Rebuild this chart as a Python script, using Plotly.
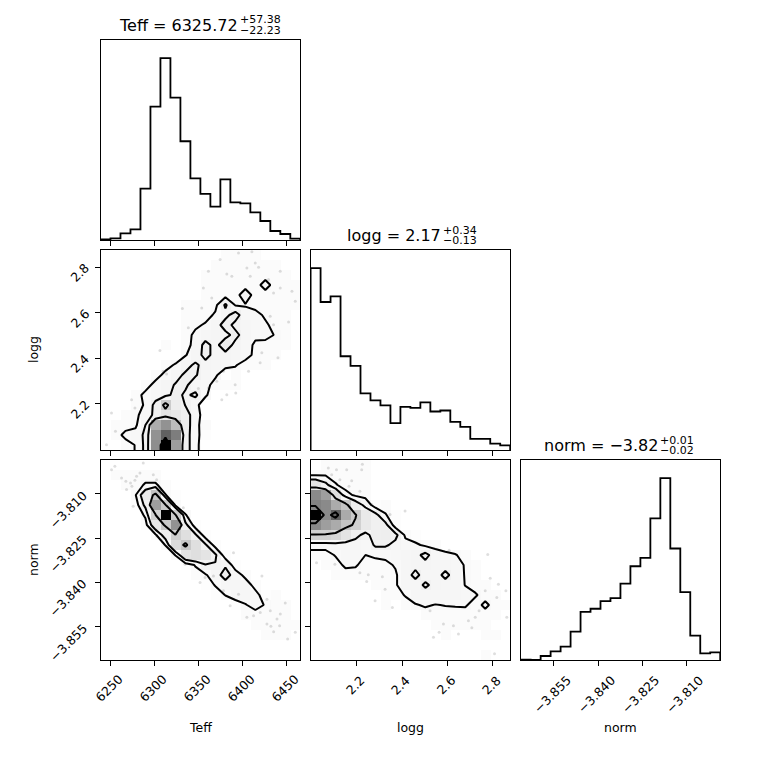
import numpy as np
import plotly.graph_objects as go

# Rangos de cada parametro (los mismos para histogramas 1D y 2D)
teff_range = [6238.6, 6465.6]
logg_range = [1.997, 2.876]
norm_range = [-3.8663, -3.7985]

# Histogramas 1D (20 bins)
teff_counts = [2, 5, 20, 32, 154, 400, 545, 427, 296, 185, 138, 100, 182, 113, 110, 83, 57, 27, 18, 4]
logg_counts = [543, 442, 459, 280, 251, 169, 148, 133, 80, 129, 126, 142, 115, 118, 84, 69, 33, 33, 19, 14]
norm_counts = [1, 0, 12, 26, 40, 85, 144, 153, 176, 185, 228, 280, 305, 423, 543, 333, 203, 73, 20, 23]

# Ticks
teff_ticks = [6250, 6300, 6350, 6400, 6450]
logg_ticks = [2.2, 2.4, 2.6, 2.8]
norm_ticks = [-3.855, -3.840, -3.825, -3.810]
teff_ticktext = ["6250", "6300", "6350", "6400", "6450"]
logg_ticktext = ["2.2", "2.4", "2.6", "2.8"]
norm_ticktext = ["\u22123.855", "\u22123.840", "\u22123.825", "\u22123.810"]

# Titulos
title_main = ["Teff = 6325.72", "logg = 2.17", "norm = \u22123.82"]
title_sup = ["+57.38", "+0.34", "+0.01"]
title_sub = ["\u221222.23", "\u22120.13", "\u22120.02"]
labels = ["Teff", "logg", "norm"]

# Histogramas 2D (20x20), filas de arriba hacia abajo
teff_logg_grid = [
    [0, 0, 0, 0, 0, 0, 0, 0, 0, 0, 0, 0, 1, 1, 1, 1, 0, 0, 0, 0],
    [0, 0, 0, 0, 0, 0, 0, 0, 0, 0, 0, 1, 1, 1, 1, 1, 1, 1, 0, 0],
    [0, 0, 0, 0, 0, 0, 0, 0, 0, 0, 1, 1, 1, 1, 1, 1, 1, 1, 1, 0],
    [0, 0, 0, 0, 0, 0, 0, 0, 0, 0, 1, 1, 1, 1, 1, 1, 3, 1, 1, 1],
    [0, 0, 0, 0, 0, 0, 0, 0, 0, 0, 1, 1, 1, 1, 3.5, 1, 1, 1, 1, 1],
    [0, 0, 0, 0, 0, 0, 0, 0, 1, 1, 1, 1.3, 5.5, 1.8, 1.8, 1, 1, 1, 1, 1],
    [0, 0, 0, 0, 0, 0, 0, 0, 1, 1, 1, 2.4, 4, 6.5, 3, 3, 1.5, 1, 1, 0],
    [0, 0, 0, 0, 0, 0, 0, 0, 1, 1.5, 2.3, 3.5, 6.5, 4, 3.5, 3, 2.5, 1, 1, 0],
    [0, 0, 0, 0, 0, 0, 0, 0, 1, 2.6, 3.5, 4, 4, 6, 3.5, 2.5, 3, 1.8, 1, 0],
    [0, 0, 0, 0, 0, 0, 1, 0, 1, 2.9, 6, 4, 7, 4, 3, 1.6, 1, 1, 1, 0],
    [0, 0, 0, 0, 0, 0, 0, 0, 1.8, 3.5, 6, 4, 4, 3.5, 3, 1.4, 1, 1, 0, 0],
    [0, 0, 0, 0, 0, 0, 1, 2.3, 4, 5.5, 4, 3.5, 3, 2.2, 1, 1, 1, 0, 0, 0],
    [0, 0, 0, 0, 0, 1, 2.7, 4, 5.5, 5.3, 3.5, 2.5, 0, 1, 0, 0, 0, 0, 0, 0],
    [0, 0, 0, 0, 1, 2.8, 4, 5.2, 5.5, 3.5, 3, 0.9, 1, 1, 0, 0, 0, 0, 0, 0],
    [0, 0, 0, 1, 2.7, 3.5, 4, 6, 4.5, 5.6, 2.5, 0, 0, 0, 0, 0, 0, 0, 0, 0],
    [0, 0, 0, 1, 2.3, 6, 14, 7, 4.9, 3, 0, 0, 0, 0, 0, 0, 0, 0, 0, 0],
    [0, 0, 1, 1.5, 3, 6, 9, 8, 6, 3.9, 0, 0, 0, 0, 0, 0, 0, 0, 0, 0],
    [0, 1, 1, 1.5, 5, 22, 28, 18, 7.4, 2.3, 1.5, 0, 0, 0, 0, 0, 0, 0, 0, 0],
    [0, 1, 2.7, 3, 5.8, 28, 40, 33, 6.5, 3, 0.5, 0, 0, 0, 0, 0, 0, 0, 0, 0],
    [0, 0, 1, 2.1, 5.9, 29, 60, 25, 6.5, 3, 0, 0, 0, 0, 0, 0, 0, 0, 0, 0],
]
teff_norm_grid = [
    [0, 0, 0, 0, 0, 0, 0, 0, 0, 0, 0, 0, 0, 0, 0, 0, 0, 0, 0, 0],
    [0, 1, 1, 1, 1, 1, 0, 0, 0, 0, 0, 0, 0, 0, 0, 0, 0, 0, 0, 0],
    [0, 0, 1, 1, 2.3, 2.3, 1, 0, 0, 0, 0, 0, 0, 0, 0, 0, 0, 0, 0, 0],
    [0, 0, 0, 1.8, 8, 16, 2.1, 0.5, 0, 0, 0, 0, 0, 0, 0, 0, 0, 0, 0, 0],
    [0, 0, 0, 0.5, 6, 25, 14.5, 1.5, 0, 0, 0, 0, 0, 0, 0, 0, 0, 0, 0, 0],
    [0, 0, 0, 0, 2.5, 13, 60, 14.5, 2.2, 0, 0, 0, 0, 0, 0, 0, 0, 0, 0, 0],
    [0, 0, 0, 0, 1, 8, 15, 28, 6, 0.5, 0, 0, 0, 0, 0, 0, 0, 0, 0, 0],
    [0, 0, 0, 0, 0, 1.5, 7, 13.5, 10, 5.5, 0.5, 0, 0, 0, 0, 0, 0, 0, 0, 0],
    [0, 0, 0, 0, 0, 0, 2.1, 11, 15, 10, 5.5, 0.8, 0, 0, 0, 0, 0, 0, 0, 0],
    [0, 0, 0, 0, 0, 0, 0, 2.1, 9, 10, 9, 5.5, 0.5, 0, 0, 0, 0, 0, 0, 0],
    [0, 0, 0, 0, 0, 0, 0, 0, 0.5, 2.2, 4.8, 4.8, 4.5, 0.5, 0, 0, 0, 0, 0, 0],
    [0, 0, 0, 0, 0, 0, 0, 0, 0, 1, 1.7, 3.5, 6.5, 3.5, 1.2, 0, 0, 0, 0, 0],
    [0, 0, 0, 0, 0, 0, 0, 0, 0, 0, 0.5, 2.2, 3.5, 3.5, 3.5, 1, 0, 0, 0, 0],
    [0, 0, 0, 0, 0, 0, 0, 0, 0, 0, 0, 0.5, 2.1, 3.5, 3.5, 3, 0.5, 1, 0, 0],
    [0, 0, 0, 0, 0, 0, 0, 0, 0, 0, 0, 0, 0, 0.5, 1.8, 3, 1.8, 1, 1, 0],
    [0, 0, 0, 0, 0, 0, 0, 0, 0, 0, 0, 0, 0, 0, 1, 1, 1, 1, 1, 0],
    [0, 0, 0, 0, 0, 0, 0, 0, 0, 0, 0, 0, 0, 0, 0, 1, 1, 1, 1, 1],
    [0, 0, 0, 0, 0, 0, 0, 0, 0, 0, 0, 0, 0, 0, 0, 0, 1, 1, 1, 0],
    [0, 0, 0, 0, 0, 0, 0, 0, 0, 0, 0, 0, 0, 0, 0, 0, 0, 0, 0, 0],
    [0, 0, 0, 0, 0, 0, 0, 0, 0, 0, 0, 0, 0, 0, 0, 0, 0, 0, 0, 0],
]
logg_norm_grid = [
    [0, 1, 1, 1, 1, 1, 0, 0, 0, 0, 0, 0, 0, 0, 0, 0, 0, 0, 0, 0],
    [1.8, 1.8, 1, 1, 1, 1, 0, 0, 0, 0, 0, 0, 0, 0, 0, 0, 0, 0, 0, 0],
    [9, 6, 2.25, 1, 1, 1, 0, 0, 0, 0, 0, 0, 0, 0, 0, 0, 0, 0, 0, 0],
    [30, 25, 10, 3, 1.5, 1, 0, 0, 0, 0, 0, 0, 0, 0, 0, 0, 0, 0, 0, 0],
    [32, 30, 22, 16, 7.3, 4, 0.5, 1, 0, 0, 0, 0, 0, 0, 0, 0, 0, 0, 0, 0],
    [60, 30, 40, 22, 14.5, 8, 6, 2.2, 0.5, 0, 0, 0, 0, 0, 0, 0, 0, 0, 0, 0],
    [30, 25, 22, 16, 13, 8, 6, 6, 0.5, 0, 0, 0, 0, 0, 0, 0, 0, 0, 0, 0],
    [13, 13, 12, 9, 6, 4, 6.5, 7, 6, 1.5, 0.5, 0, 0, 0, 0, 0, 0, 0, 0, 0],
    [3, 3, 3.5, 3.5, 3.5, 3, 5.5, 5.5, 4, 3, 2.5, 1.5, 1, 0, 0, 0, 0, 0, 0, 0],
    [1, 1, 2.2, 3, 3, 2, 2.5, 2.5, 3, 3.5, 4, 6, 3.5, 3, 2.2, 1, 0, 0, 0, 0],
    [0, 1, 1, 2.5, 2.3, 1, 1, 1.5, 2.2, 3.5, 4, 4, 3.5, 3.5, 3, 1.8, 1, 0, 0, 0],
    [0, 0, 1, 1, 1, 1, 1, 1, 1.7, 3.5, 6, 3.5, 3.5, 6, 3.5, 1.8, 1, 0, 0, 0],
    [0, 0, 0, 0, 0, 0, 1, 1, 1.7, 3.5, 3.5, 5.6, 4, 3.5, 3.5, 1.9, 1, 1, 0, 0],
    [0, 0, 0, 0, 0, 0, 0, 1, 1, 2.2, 3.5, 3.5, 3.5, 3.5, 3.5, 3, 2.3, 1, 1, 0],
    [0, 0, 0, 0, 0, 0, 0, 1, 0, 1, 1.8, 2.3, 1.9, 2.1, 2.2, 2.3, 1, 2.6, 1, 1],
    [0, 0, 0, 0, 0, 0, 0, 0, 0, 0, 0, 1, 1, 1, 1, 1, 1, 1, 1, 0],
    [0, 0, 0, 0, 0, 0, 0, 0, 0, 0, 0, 0, 1, 1, 1, 1, 1, 1, 0, 0],
    [0, 0, 0, 0, 0, 0, 0, 0, 0, 0, 0, 0, 0, 1, 0, 0, 0, 1, 1, 0],
    [0, 0, 0, 0, 0, 0, 0, 0, 0, 0, 0, 0, 0, 0, 0, 0, 0, 0, 0, 0],
    [0, 0, 0, 0, 0, 0, 0, 0, 0, 0, 0, 0, 0, 0, 0, 0, 0, 1, 0, 0],
]

# Niveles de contorno
teff_logg_levels = [2, 5, 12, 45]
teff_norm_levels = [2, 5, 14]
logg_norm_levels = [2, 5, 14, 35]

# Puntos fuera de los contornos
tl_teff = [6374.5, 6395.4, 6410.6, 6414.4, 6418.2, 6404.9, 6408.7, 6387.8, 6382.1, 6361.2,
           6355.5, 6365.0, 6353.6, 6331.6, 6442.8, 6429.5, 6442.8, 6435.2, 6456.1, 6459.9,
           6431.4, 6435.2, 6452.3, 6421.9, 6420.0, 6440.2, 6406.8, 6378.3, 6370.7, 6376.4,
           6382.1, 6391.6, 6392.3, 6361.2, 6349.8, 6309.9, 6313.7, 6277.7, 6251.1, 6255.6,
           6338.4, 6306.1, 6273.9, 6245.4]
tl_logg = [2.834, 2.863, 2.868, 2.819, 2.800, 2.797, 2.761, 2.761, 2.771, 2.783,
           2.709, 2.665, 2.621, 2.619, 2.783, 2.746, 2.709, 2.687, 2.695, 2.651,
           2.585, 2.548, 2.560, 2.424, 2.380, 2.402, 2.343, 2.343, 2.299, 2.218,
           2.240, 2.284, 2.248, 2.270, 2.267, 2.343, 2.331, 2.182, 2.160, 2.079,
           2.534, 2.434, 2.218, 2.020]

tn_teff = [6254.9, 6251.1, 6287.2, 6262.5, 6267.4, 6272.7, 6277.7, 6274.3, 6268.2, 6279.6,
           6298.6, 6302.4, 6283.4, 6275.8, 6302.4, 6332.7, 6338.4, 6351.7, 6357.4, 6334.6,
           6378.3, 6385.9, 6395.4, 6404.9, 6412.5, 6420.1, 6427.7, 6431.5, 6439.1, 6427.7,
           6432.2, 6435.3, 6442.1, 6451.2, 6459.9, 6448.5, 6442.9, 6389.7, 6422.0, 6366.9]
tn_norm = [-3.8006, -3.8018, -3.7995, -3.8046, -3.8057, -3.8063, -3.8054, -3.8074, -3.8085, -3.8040,
           -3.8035, -3.8052, -3.8029, -3.8142, -3.8243, -3.8147, -3.8181, -3.8400, -3.8383, -3.8338,
           -3.8428, -3.8479, -3.8440, -3.8518, -3.8513, -3.8502, -3.8457, -3.8496, -3.8524, -3.8541,
           -3.8549, -3.8567, -3.8547, -3.8592, -3.8569, -3.8470, -3.8507, -3.8299, -3.8378, -3.8378]

ln_logg = [2.075, 2.111, 2.156, 2.222, 2.225, 2.126, 2.178, 2.166, 2.214, 2.266,
           2.347, 2.413, 2.023, 2.104, 2.214, 2.251, 2.244, 2.313, 2.325, 2.281,
           2.357, 2.523, 2.538, 2.563, 2.582, 2.626, 2.648, 2.692, 2.707, 2.722,
           2.739, 2.777, 2.788, 2.824, 2.857, 2.766, 2.817, 2.861, 2.807, 2.607, 2.090]
ln_norm = [-3.8012, -3.8018, -3.8018, -3.8018, -3.7999, -3.8052, -3.8055, -3.8074, -3.8091, -3.8136,
           -3.8170, -3.8158, -3.8333, -3.8338, -3.8367, -3.8374, -3.8397, -3.8381, -3.8423, -3.8462,
           -3.8485, -3.8496, -3.8586, -3.8569, -3.8541, -3.8547, -3.8575, -3.8530, -3.8554, -3.8518,
           -3.8496, -3.8305, -3.8386, -3.8406, -3.8428, -3.8428, -3.8451, -3.8518, -3.8642, -3.8291, -3.8035]

# La pagina deja 8 px de margen en el body: figura de 752 px y todo corrido 8 px
OFF = 8
W = 752
FONT = "DejaVu Sans"


def fx(px):
    return (px - OFF) / W


def fy(py):
    return 1 - (py - OFF) / W


cols = [(100.5, 300.3), (310.6, 510.2), (520.7, 720.2)]
rows = [(40, 240), (250, 450), (460, 660)]

# escala de grises parecida a la de corner (negro en el maximo)
density_scale = [
    [0.0, "rgb(255,255,255)"],
    [0.0167, "rgb(251,251,251)"],
    [0.0583, "rgb(246,246,246)"],
    [0.1167, "rgb(238,238,238)"],
    [0.2333, "rgb(204,204,204)"],
    [0.4167, "rgb(158,158,158)"],
    [0.6667, "rgb(97,97,97)"],
    [1.0, "rgb(0,0,0)"],
]


def edges(rng):
    return np.linspace(rng[0], rng[1], 21)


def step_xy(counts, rng):
    e = edges(rng)
    xs, ys = [e[0]], [0]
    for k, c in enumerate(counts):
        xs += [e[k], e[k + 1]]
        ys += [c, c]
    xs.append(e[-1])
    ys.append(0)
    return xs, ys


def padded(grid, xr, yr):
    # igual que corner: se extiende la malla dos bins por cada lado
    z = np.array(grid, dtype=float)[::-1]
    ny, nx = z.shape
    dx = (xr[1] - xr[0]) / nx
    dy = (yr[1] - yr[0]) / ny
    xc = xr[0] + dx * (np.arange(nx) + 0.5)
    yc = yr[0] + dy * (np.arange(ny) + 0.5)
    z2 = np.full((ny + 4, nx + 4), z.min())
    z2[2:-2, 2:-2] = z
    z2[2:-2, 1] = z[:, 0]
    z2[2:-2, -2] = z[:, -1]
    z2[1, 2:-2] = z[0]
    z2[-2, 2:-2] = z[-1]
    z2[1, 1] = z[0, 0]
    z2[1, -2] = z[0, -1]
    z2[-2, 1] = z[-1, 0]
    z2[-2, -2] = z[-1, -1]
    x2 = np.concatenate([xc[0] - np.array([2, 1]) * dx, xc, xc[-1] + np.array([1, 2]) * dx])
    y2 = np.concatenate([yc[0] - np.array([2, 1]) * dy, yc, yc[-1] + np.array([1, 2]) * dy])
    return x2, y2, z2


fig = go.Figure()

# histogramas de la diagonal
diag = [(1, teff_counts, teff_range), (3, logg_counts, logg_range), (6, norm_counts, norm_range)]
for n, counts, rng in diag:
    xs, ys = step_xy(counts, rng)
    fig.add_trace(go.Scatter(x=xs, y=ys, mode="lines", line=dict(color="black", width=1.8),
                             hoverinfo="skip", xaxis="x%d" % n, yaxis="y%d" % n))

# paneles 2D
panels = [
    (2, teff_logg_grid, teff_range, logg_range, teff_logg_levels, tl_teff, tl_logg),
    (4, teff_norm_grid, teff_range, norm_range, teff_norm_levels, tn_teff, tn_norm),
    (5, logg_norm_grid, logg_range, norm_range, logg_norm_levels, ln_logg, ln_norm),
]
for n, grid, xr, yr, levels, px, py in panels:
    fig.add_trace(go.Heatmap(x=edges(xr), y=edges(yr), z=np.array(grid, dtype=float)[::-1],
                             colorscale=density_scale, zmin=0, zmax=60, showscale=False,
                             hoverinfo="skip", xaxis="x%d" % n, yaxis="y%d" % n))
    fig.add_trace(go.Scatter(x=px, y=py, mode="markers",
                             marker=dict(size=3, color="rgba(0,0,0,0.13)"),
                             hoverinfo="skip", xaxis="x%d" % n, yaxis="y%d" % n))
    x2, y2, z2 = padded(grid, xr, yr)
    for lv in levels:
        fig.add_trace(go.Contour(x=x2, y=y2, z=z2, autocontour=False,
                                 contours=dict(start=lv, end=lv, size=1, coloring="lines"),
                                 colorscale=[[0, "black"], [1, "black"]],
                                 line=dict(width=2, smoothing=0), showscale=False,
                                 hoverinfo="skip", xaxis="x%d" % n, yaxis="y%d" % n))

axis_style = dict(showline=True, linecolor="black", linewidth=1, mirror=True,
                  ticks="outside", ticklen=5, tickwidth=1, tickcolor="black",
                  showgrid=False, zeroline=False, showticklabels=False)

ticks = {"teff": (teff_ticks, teff_ticktext, teff_range),
         "logg": (logg_ticks, logg_ticktext, logg_range),
         "norm": (norm_ticks, norm_ticktext, norm_range)}

# (n, fila, columna, parametro x, parametro y o None, etiquetas x, etiquetas y)
layout_axes = [
    (1, 0, 0, "teff", None, False, False),
    (2, 1, 0, "teff", "logg", False, True),
    (3, 1, 1, "logg", None, False, False),
    (4, 2, 0, "teff", "norm", True, True),
    (5, 2, 1, "logg", "norm", True, False),
    (6, 2, 2, "norm", None, True, False),
]
diag_max = {1: max(teff_counts), 3: max(logg_counts), 6: max(norm_counts)}

# posicion de las etiquetas giradas (como matplotlib, rotation=45)
xlab_center = {"teff": 688, "logg": 685, "norm": 694}
ylab_center = {"logg": (80, -5.5), "norm": (68.5, -15.5)}
tick_font = dict(family=FONT, size=12.5, color="black")

lay = {}
annotations = []
for n, r, c, px_, py_, xl, yl in layout_axes:
    tv, tt, rng = ticks[px_]
    lay["xaxis" + ("" if n == 1 else str(n))] = dict(
        axis_style, domain=[fx(cols[c][0]), fx(cols[c][1])], range=rng,
        tickvals=tv, anchor="y%d" % n)
    if xl:
        for v, t in zip(tv, tt):
            annotations.append(dict(text=t, x=v, xref="x%d" % n, y=fy(xlab_center[px_]),
                                    yref="paper", xshift=-2, textangle=-45, showarrow=False,
                                    xanchor="center", yanchor="middle", font=tick_font))
    if py_ is None:
        ya = dict(axis_style, domain=[fy(rows[r][1]), fy(rows[r][0])],
                  range=[0, 1.1 * diag_max[n]], ticks="", anchor="x%d" % n)
    else:
        tv2, tt2, rng2 = ticks[py_]
        ya = dict(axis_style, domain=[fy(rows[r][1]), fy(rows[r][0])], range=rng2,
                  tickvals=tv2, anchor="x%d" % n)
        if yl:
            cx, dy = ylab_center[py_]
            for v, t in zip(tv2, tt2):
                annotations.append(dict(text=t, x=fx(cx), xref="paper", y=v, yref="y%d" % n,
                                        yshift=dy, textangle=-45, showarrow=False,
                                        xanchor="center", yanchor="middle", font=tick_font))
    lay["yaxis" + ("" if n == 1 else str(n))] = ya

junctions = [238.6, 442.0, 658.7]
for k in range(3):
    top = rows[k][0]
    j = junctions[k]
    annotations.append(dict(text=title_main[k], x=fx(j), y=fy(top - 14.5), xref="paper", yref="paper",
                            xanchor="right", yanchor="middle", showarrow=False, borderpad=0,
                            font=dict(family=FONT, size=16, color="black")))
    annotations.append(dict(text=title_sup[k], x=fx(j), y=fy(top - 20), xref="paper", yref="paper",
                            xanchor="left", yanchor="middle", showarrow=False, borderpad=0,
                            font=dict(family=FONT, size=11, color="black")))
    annotations.append(dict(text=title_sub[k], x=fx(j), y=fy(top - 9.5), xref="paper", yref="paper",
                            xanchor="left", yanchor="middle", showarrow=False, borderpad=0,
                            font=dict(family=FONT, size=11, color="black")))
    annotations.append(dict(text=labels[k], x=fx((cols[k][0] + cols[k][1]) / 2), y=fy(727),
                            xref="paper", yref="paper", xanchor="center", yanchor="middle",
                            showarrow=False, font=dict(family=FONT, size=12.5, color="black")))

for k, lab in [(1, "logg"), (2, "norm")]:
    annotations.append(dict(text=lab, x=fx(33), y=fy((rows[k][0] + rows[k][1]) / 2),
                            xref="paper", yref="paper", xanchor="center", yanchor="middle",
                            textangle=-90, showarrow=False,
                            font=dict(family=FONT, size=12.5, color="black")))

fig.update_layout(width=W, height=W, margin=dict(l=0, r=0, t=0, b=0),
                  paper_bgcolor="white", plot_bgcolor="white", showlegend=False,
                  font=dict(family=FONT), annotations=annotations, **lay)

fig.write_html("out.html")
